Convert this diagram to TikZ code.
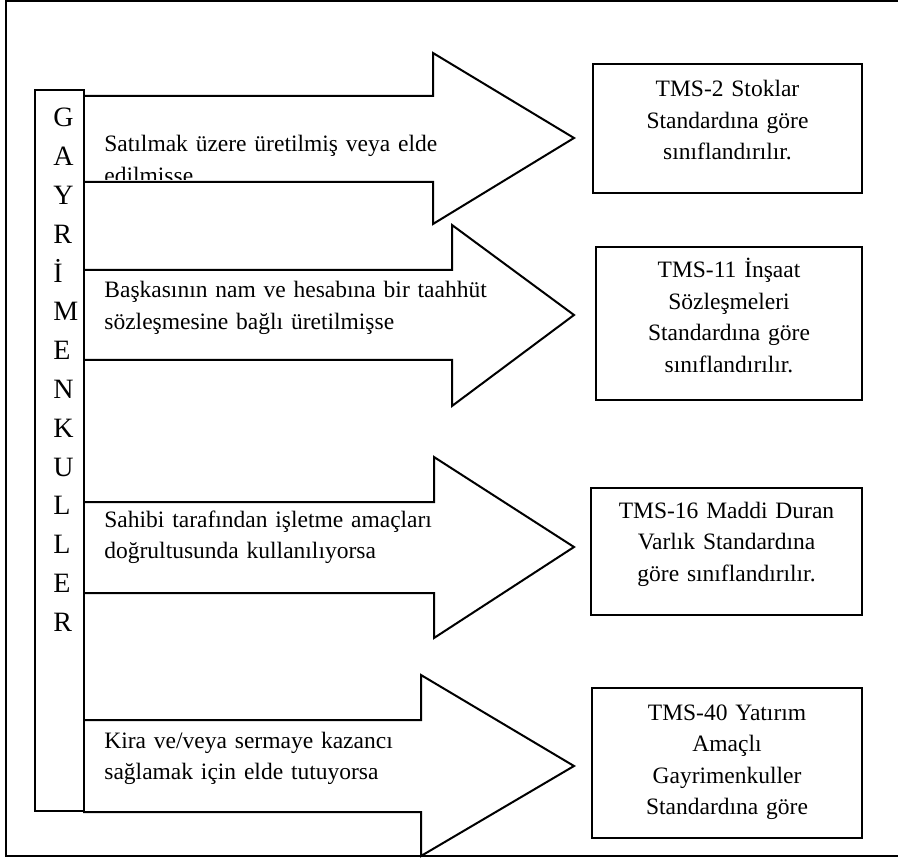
\documentclass[tikz,border=0pt]{standalone}
\usepackage{fontspec}
\setmainfont{Liberation Serif}
\usetikzlibrary{positioning}

\tikzset{
  bigarrow/.style={draw, line width=1pt, line join=miter},
  armtext/.style={inner sep=0pt, text width=200pt, align=left, font=\fontsize{11.75}{15.75}\selectfont},
  stdbox/.style={draw, line width=1pt, inner sep=0pt, anchor=north west},
  stdtext/.style={inner sep=0pt, text width=130pt, align=center, font=\fontsize{11.75}{15.75}\selectfont},
}

\begin{document}
\begin{tikzpicture}[x=0.5pt, y=-0.5pt]
        \useasboundingbox (0,0) rectangle (898,860);
        \draw [line width=1pt] (898,1) -- (6,1) -- (6,856) -- (898,856);

        \node [stdbox, minimum width=24.5pt, minimum height=360.5pt] (gbar) at (34,89) {};
        \node [anchor=base west, inner sep=0pt, text width=20pt, align=left, font=\fontsize{14}{19.4}\selectfont] (gletters) at (53,127) {G\\A\\Y\\R\\İ\\M\\E\\N\\K\\U\\L\\L\\E\\R};

        \draw [bigarrow] (83,96) -- (433,96) -- (433,53) -- (574,138) -- (433,224) -- (433,182) -- (83,182);
        \draw [bigarrow] (83,270) -- (452,270) -- (452,225) -- (574,315) -- (452,406) -- (452,360) -- (83,360);
        \draw [bigarrow] (83,502) -- (434,502) -- (434,457) -- (574,547) -- (434,638) -- (434,593) -- (83,593);
        \draw [bigarrow] (83,720) -- (421,720) -- (421,675) -- (574,766) -- (421,856) -- (421,812) -- (83,812);

        \begin{scope}
            \clip (83,96) rectangle (560,180);
            \node [armtext, anchor=base west] (satilmak) at (104,152) {Satılmak üzere üretilmiş veya elde\\edilmişse};
        \end{scope}
        \node [armtext, anchor=base west] (taahhut) at (104,298) {Başkasının nam ve hesabına bir taahhüt\\sözleşmesine bağlı üretilmişse};
        \node [armtext, anchor=base west] (isletme) at (104,527) {Sahibi tarafından işletme amaçları\\doğrultusunda kullanılıyorsa};
        \node [armtext, anchor=base west] (kira) at (104,748) {Kira ve/veya sermaye kazancı\\sağlamak için elde tutuyorsa};

        \node [stdbox, minimum width=134.5pt, minimum height=64.5pt] (stoklar) at (592,63) {};
        \node [stdtext, below=17pt of stoklar.north, anchor=base] (stoklartxt) {TMS-2 Stoklar\\Standardına göre\\sınıflandırılır.};
        \node [stdbox, minimum width=133pt, minimum height=76.5pt] (insaat) at (595,246) {};
        \node [stdtext, below=16pt of insaat.north, anchor=base] (insaattxt) {TMS-11 İnşaat\\Sözleşmeleri\\Standardına göre\\sınıflandırılır.};
        \node [stdbox, minimum width=135.5pt, minimum height=63.5pt] (mdv) at (590,487) {};
        \node [stdtext, below=15.5pt of mdv.north, anchor=base] (mdvtxt) {TMS-16 Maddi Duran\\Varlık Standardına\\göre sınıflandırılır.};
        \node [stdbox, minimum width=135pt, minimum height=75pt] (yatirim) at (591,687) {};
        \node [stdtext, below=16.5pt of yatirim.north, anchor=base] (yatirimtxt) {TMS-40 Yatırım\\Amaçlı\\Gayrimenkuller\\Standardına göre};
\end{tikzpicture}
\end{document}
